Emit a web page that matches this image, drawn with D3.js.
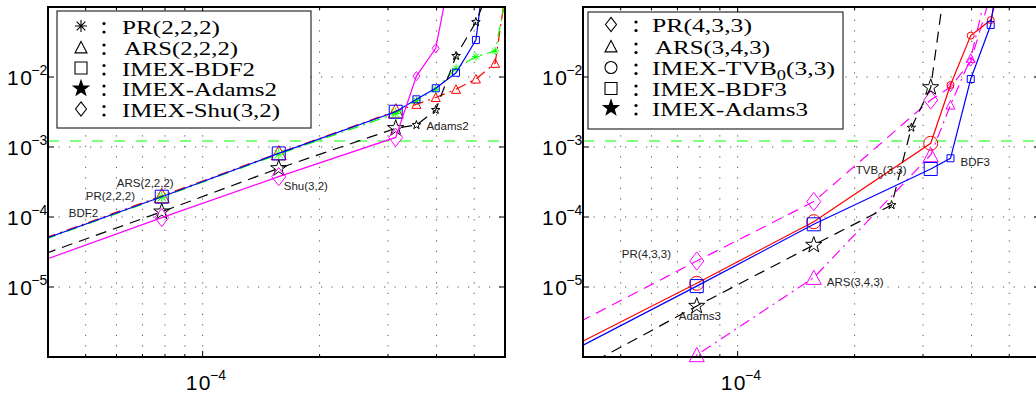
<!DOCTYPE html>
<html>
<head>
<meta charset="utf-8">
<script src="https://cdn.jsdelivr.net/npm/d3@7"></script>
<style>
  body { margin: 0; background: #fff; }
  svg { display: block; }
</style>
</head>
<body>
<script>
// time steps: the coarse ones carry big markers, the fine ones small markers
var dtCoarse = [3.93e-5, 7.85e-5, 1.57e-4, 3.14e-4];
var dtFineL = [3.55e-4, 3.98e-4, 4.49e-4, 5.05e-4, 5.66e-4, 6.36e-4];
var dtFineR = [2.49e-4, 2.80e-4, 3.53e-4, 3.98e-4, 4.48e-4, 5.03e-4];

// left panel, second order schemes
var pr222C = [4.8e-5, 1.92e-4, 7.9e-4, 3.0e-3];
var pr222F = [4.6e-3, 6.7e-3, 1.33e-2, 1.95e-2, 2.35e-2, 0.6];
var ars222C = [5.0e-5, 2.0e-4, 8.2e-4, 3.25e-3];
var ars222F = [4.07e-3, 5.1e-3, 6.67e-3, 9.36e-3, 1.57e-2, 1.3];
var bdf2C = [4.9e-5, 1.95e-4, 8.1e-4, 3.19e-3];
var bdf2F = [4.8e-3, 6.9e-3, 1.15e-2, 3.38e-2, 5.0, null];
var adams2C = [3.0e-5, 1.19e-4, 4.96e-4, 1.85e-3];
var adams2F = [2.06e-3, 3.38e-3, 2.0e-2, 6.1e-2, 0.3, null];
var shu32C = [2.45e-5, 9.8e-5, 3.77e-4, 1.37e-3];
var shu32F = [1.03e-2, 2.57e-2, 0.8, null, null, null];

// right panel, third order schemes
var pr433C = [3.2e-6, 2.35e-5, 1.66e-4, 4.69e-3];
var pr433F = [null, null, 7.2e-3, 1.66e-2, 0.15, null];
var ars343C = [1.4e-7, 1.07e-6, 1.36e-5, 7.69e-4];
var ars343F = [null, null, 3.98e-3, 1.85e-2, 0.3, null];
var tvbC = [1.6e-6, 1.13e-5, 8.57e-5, 1.13e-3];
var tvbF = [null, null, 7.7e-3, 3.9e-2, 6.5e-2, 0.8];
var bdf3C = [1.4e-6, 1.03e-5, 7.87e-5, 4.85e-4];
var bdf3F = [null, null, 6.9e-4, 9.36e-3, 5.53e-2, 5.0];
var adams3C = [6.7e-7, 5.35e-6, 3.98e-5, 7.1e-3];
var adams3F = [1.48e-4, 1.89e-3, 0.8, null, null, null];

var refErr = 1.22e-3;
var yTicks = [1e-5, 1e-4, 1e-3, 1e-2];
var xTicks = [1e-4];
var xMinor = [5e-5, 6e-5, 7e-5, 8e-5, 9e-5, 2e-4, 3e-4, 4e-4, 5e-4];
var xDomain = [4e-5, 6e-4];
var yDomain = [1e-6, 1e-1];

var dashes = { solid: null, dashed: "11 7", dashdot: "11 5 2 5" };

var leftSeries = [
  { c: ars222C, f: ars222F, fdt: dtFineL, color: "#ff0000", dash: "dashdot", mk: "triangle" },
  { c: pr222C, f: pr222F, fdt: dtFineL, color: "#00ff00", dash: "dashdot", mk: "asterisk" },
  { c: bdf2C, f: bdf2F, fdt: dtFineL, color: "#0000ff", dash: "solid", mk: "square" },
  { c: adams2C, f: adams2F, fdt: dtFineL, color: "#000000", dash: "dashed", mk: "star" },
  { c: shu32C, f: shu32F, fdt: dtFineL, color: "#ff00ff", dash: "solid", mk: "diamond" }
];
var rightSeries = [
  { c: pr433C, f: pr433F, fdt: dtFineR, color: "#ff00ff", dash: "dashed", mk: "diamond" },
  { c: ars343C, f: ars343F, fdt: dtFineR, color: "#ff00ff", dash: "dashdot", mk: "triangle" },
  { c: tvbC, f: tvbF, fdt: dtFineR, color: "#ff0000", dash: "solid", mk: "circle" },
  { c: bdf3C, f: bdf3F, fdt: dtFineR, color: "#0000ff", dash: "solid", mk: "square" },
  { c: adams3C, f: adams3F, fdt: dtFineR, color: "#000000", dash: "dashed", mk: "star" }
];

// marker shapes, s = nominal width
function markerPath(type, s) {
  var h = s / 2, p = d3.path(), i;
  if (type == "square") {
    p.rect(-h, -h, s, s);
  } else if (type == "triangle") {
    p.moveTo(0, -h); p.lineTo(h, h * 0.9); p.lineTo(-h, h * 0.9); p.closePath();
  } else if (type == "diamond") {
    var v = h * 1.3;
    p.moveTo(0, -v); p.lineTo(h, 0); p.lineTo(0, v); p.lineTo(-h, 0); p.closePath();
  } else if (type == "circle") {
    p.moveTo(h, 0); p.arc(0, 0, h, 0, 2 * Math.PI);
  } else if (type == "star") {
    for (i = 0; i < 10; i++) {
      var a = -Math.PI / 2 + i * Math.PI / 5, r = i % 2 ? h * 0.4 : h;
      if (i == 0) p.moveTo(r * Math.cos(a), r * Math.sin(a));
      else p.lineTo(r * Math.cos(a), r * Math.sin(a));
    }
    p.closePath();
  } else if (type == "asterisk") {
    var d = h * 0.72;
    p.moveTo(-h, 0); p.lineTo(h, 0); p.moveTo(0, -h); p.lineTo(0, h);
    p.moveTo(-d, -d); p.lineTo(d, d); p.moveTo(d, -d); p.lineTo(-d, d);
  }
  return p.toString();
}
var bigSize = { square: 13, triangle: 15, diamond: 14, circle: 14, star: 17, asterisk: 12 };
var smallSize = { square: 7, triangle: 9, diamond: 7, circle: 7, star: 9, asterisk: 8 };

var panels = [
  {
    x0: 48, x1: 505, series: leftSeries,
    legend: { x: 57, y: 11, w: 254, h: 117, sx: 81, cx: 104, tx: 122,
      rows: [
        { mk: "asterisk", base: 33.5, len: 98, parts: [["PR(2,2,2)"]] },
        { mk: "triangle", base: 55, len: 114, tx: 124, parts: [["ARS(2,2,2)"]] },
        { mk: "square", base: 75.5, len: 133, parts: [["IMEX-BDF2"]] },
        { mk: "star", base: 96, len: 155, parts: [["IMEX-Adams2"]] },
        { mk: "diamond", base: 116.5, len: 158, parts: [["IMEX-Shu(3,2)"]] }
      ] },
    labels: [
      { t: "ARS(2,2,2)", x: dtCoarse[1], y: ars222C[1], dx: -45, dy: -9 },
      { t: "PR(2,2,2)", x: dtCoarse[1], y: pr222C[1], dx: -76, dy: 3 },
      { t: "BDF2", x: dtCoarse[1], y: bdf2C[1], dx: -93, dy: 20 },
      { t: "Shu(3,2)", x: dtCoarse[2], y: shu32C[2], dx: 5, dy: 13 },
      { t: "Adams2", x: dtFineL[0], y: adams2F[0], dx: 10, dy: 5 }
    ]
  },
  {
    x0: 583, x1: 1040, series: rightSeries,
    legend: { x: 588, y: 12, w: 255, h: 117, sx: 611, cx: 636, tx: 652,
      rows: [
        { mk: "diamond", base: 32, len: 100, parts: [["PR(4,3,3)"]] },
        { mk: "triangle", base: 54, len: 115, tx: 655, parts: [["ARS(3,4,3)"]] },
        { mk: "circle", base: 75, len: 183, parts: [["IMEX-TVB"], ["0", "sub"], ["(3,3)"]] },
        { mk: "square", base: 96, len: 135, parts: [["IMEX-BDF3"]] },
        { mk: "star", base: 115.5, len: 156, parts: [["IMEX-Adams3"]] }
      ] },
    labels: [
      { t: "PR(4,3,3)", x: dtCoarse[1], y: pr433C[1], dx: -75, dy: -3 },
      { t: "Adams3", x: dtCoarse[1], y: adams3C[1], dx: -18, dy: 14 },
      { t: "ARS(3,4,3)", x: dtCoarse[2], y: ars343C[2], dx: 13, dy: 8 },
      { t: "TVB", sub: "0", rest: "(3,3)", x: dtCoarse[3], y: tvbC[3], dx: -75, dy: 31 },
      { t: "BDF3", x: dtFineR[2], y: bdf3F[2], dx: 10, dy: 8 }
    ]
  }
];

var W = 1036, H = 395, plotTop = 7, plotBottom = 357;
var svg = d3.select("body").append("svg").attr("width", W).attr("height", H);

function powLabel(g, x, y, e) {
  var t = g.append("text").attr("x", x).attr("y", y)
    .attr("font-family", "Liberation Sans, Arial, sans-serif")
    .attr("font-size", 21).attr("fill", "#000");
  t.append("tspan").attr("letter-spacing", 1.5).text("10");
  t.append("tspan").attr("dx", -2).attr("dy", -10).attr("font-size", 14).text("\u2212" + e);
}

panels.forEach(function(pn, k) {
  var x = d3.scaleLog().domain(xDomain).range([pn.x0, pn.x1]);
  var y = d3.scaleLog().domain(yDomain).range([plotBottom, plotTop]);
  var g = svg.append("g");

  g.append("clipPath").attr("id", "clip" + k).append("rect")
    .attr("x", pn.x0).attr("y", plotTop).attr("width", pn.x1 - pn.x0).attr("height", plotBottom - plotTop);

  // dotted grid
  var grid = g.append("g").attr("stroke", "#555").attr("stroke-width", 1)
    .attr("stroke-dasharray", "1.2 9.3");
  grid.selectAll("line.v").data(xMinor.concat(xTicks)).enter().append("line")
    .attr("x1", function(d) { return x(d); }).attr("x2", function(d) { return x(d); })
    .attr("y1", plotBottom).attr("y2", plotTop);
  grid.selectAll("line.h").data(yTicks).enter().append("line")
    .attr("y1", function(d) { return y(d); }).attr("y2", function(d) { return y(d); })
    .attr("x1", pn.x0).attr("x2", pn.x1);

  // ticks on all four sides
  var tk = g.append("g").attr("stroke", "#000").attr("stroke-width", 1);
  xMinor.concat(xTicks).forEach(function(d) {
    var len = xTicks.indexOf(d) >= 0 ? 6 : 3;
    tk.append("line").attr("x1", x(d)).attr("x2", x(d)).attr("y1", plotBottom).attr("y2", plotBottom - len);
    tk.append("line").attr("x1", x(d)).attr("x2", x(d)).attr("y1", plotTop).attr("y2", plotTop + len);
  });
  yTicks.forEach(function(d) {
    tk.append("line").attr("x1", pn.x0).attr("x2", pn.x0 + 6).attr("y1", y(d)).attr("y2", y(d));
    tk.append("line").attr("x1", pn.x1).attr("x2", pn.x1 - 6).attr("y1", y(d)).attr("y2", y(d));
  });

  // reference error level
  g.append("line").attr("clip-path", "url(#clip" + k + ")")
    .attr("x1", pn.x0).attr("x2", pn.x1).attr("y1", y(refErr)).attr("y2", y(refErr))
    .attr("stroke", "#00ff00").attr("stroke-width", 1.1).attr("stroke-dasharray", "11 11");

  var line = d3.line().x(function(d) { return x(d.x); }).y(function(d) { return y(d.y); });

  pn.series.forEach(function(s) {
    var pts = dtCoarse.map(function(d, i) { return { x: d, y: s.c[i], big: true }; })
      .concat(s.fdt.map(function(d, i) { return { x: d, y: s.f[i], big: false }; }))
      .filter(function(p) { return p.y != null; })
      .sort(function(a, b) { return a.x - b.x; });

    g.append("path").datum(pts).attr("clip-path", "url(#clip" + k + ")")
      .attr("d", line).attr("fill", "none").attr("stroke", s.color)
      .attr("stroke-width", 1.2).attr("stroke-dasharray", dashes[s.dash]);

    var vis = pts.filter(function(p) {
      return p.x >= xDomain[0] && p.x <= xDomain[1] && p.y >= yDomain[0] && p.y <= yDomain[1];
    });
    g.selectAll(null).data(vis).enter().append("path")
      .attr("transform", function(p) { return "translate(" + x(p.x) + "," + y(p.y) + ")"; })
      .attr("d", function(p) { return markerPath(s.mk, p.big ? bigSize[s.mk] : smallSize[s.mk]); })
      .attr("fill", "none").attr("stroke", s.color).attr("stroke-width", 1);
  });

  // in-plot labels
  pn.labels.forEach(function(l) {
    var t = g.append("text").attr("x", x(l.x) + l.dx).attr("y", y(l.y) + l.dy)
      .attr("font-family", "Liberation Sans, Arial, sans-serif").attr("font-size", 11.5)
      .attr("fill", "#222").text(l.t);
    if (l.sub) {
      t.append("tspan").attr("dy", 5).attr("font-size", 8.5).text(l.sub);
      t.append("tspan").attr("dy", -5).text(l.rest);
    }
  });

  // axes box
  g.append("rect").attr("x", pn.x0).attr("y", plotTop).attr("width", pn.x1 - pn.x0)
    .attr("height", plotBottom - plotTop).attr("fill", "none").attr("stroke", "#000").attr("stroke-width", 2);

  // tick labels
  yTicks.forEach(function(d) { powLabel(g, pn.x0 - 41, y(d) + 8, -Math.round(Math.log10(d))); });
  xTicks.forEach(function(d) { powLabel(g, x(d) - 17, 390, -Math.round(Math.log10(d))); });

  // legend
  var L = pn.legend;
  var lg = g.append("g");
  lg.append("rect").attr("x", L.x).attr("y", L.y).attr("width", L.w).attr("height", L.h)
    .attr("fill", "#fff").attr("stroke", "#000").attr("stroke-width", 1);
  L.rows.forEach(function(r) {
    lg.append("path").attr("transform", "translate(" + L.sx + "," + (r.base - 7.5) + ")")
      .attr("d", markerPath(r.mk, r.mk == "star" ? 16 : (r.mk == "diamond" ? 11 : 12)))
      .attr("fill", r.mk == "star" ? "#000" : "none").attr("stroke", "#000").attr("stroke-width", 1.1);
    lg.append("circle").attr("cx", L.cx).attr("cy", r.base - 10).attr("r", 1.6).attr("fill", "#000");
    lg.append("circle").attr("cx", L.cx).attr("cy", r.base - 1.5).attr("r", 1.6).attr("fill", "#000");
    var t = lg.append("text").attr("x", r.tx || L.tx).attr("y", r.base)
      .attr("font-family", "Liberation Serif, serif").attr("font-size", 19.5)
      .attr("textLength", r.len).attr("lengthAdjust", "spacingAndGlyphs");
    r.parts.forEach(function(p) {
      var ts = t.append("tspan").text(p[0]);
      if (p[1] == "sub") ts.attr("dy", 5).attr("font-size", 14);
      else if (t.selectAll("tspan").size() > 1) ts.attr("dy", -5);
    });
  });
});
</script>
</body>
</html>
